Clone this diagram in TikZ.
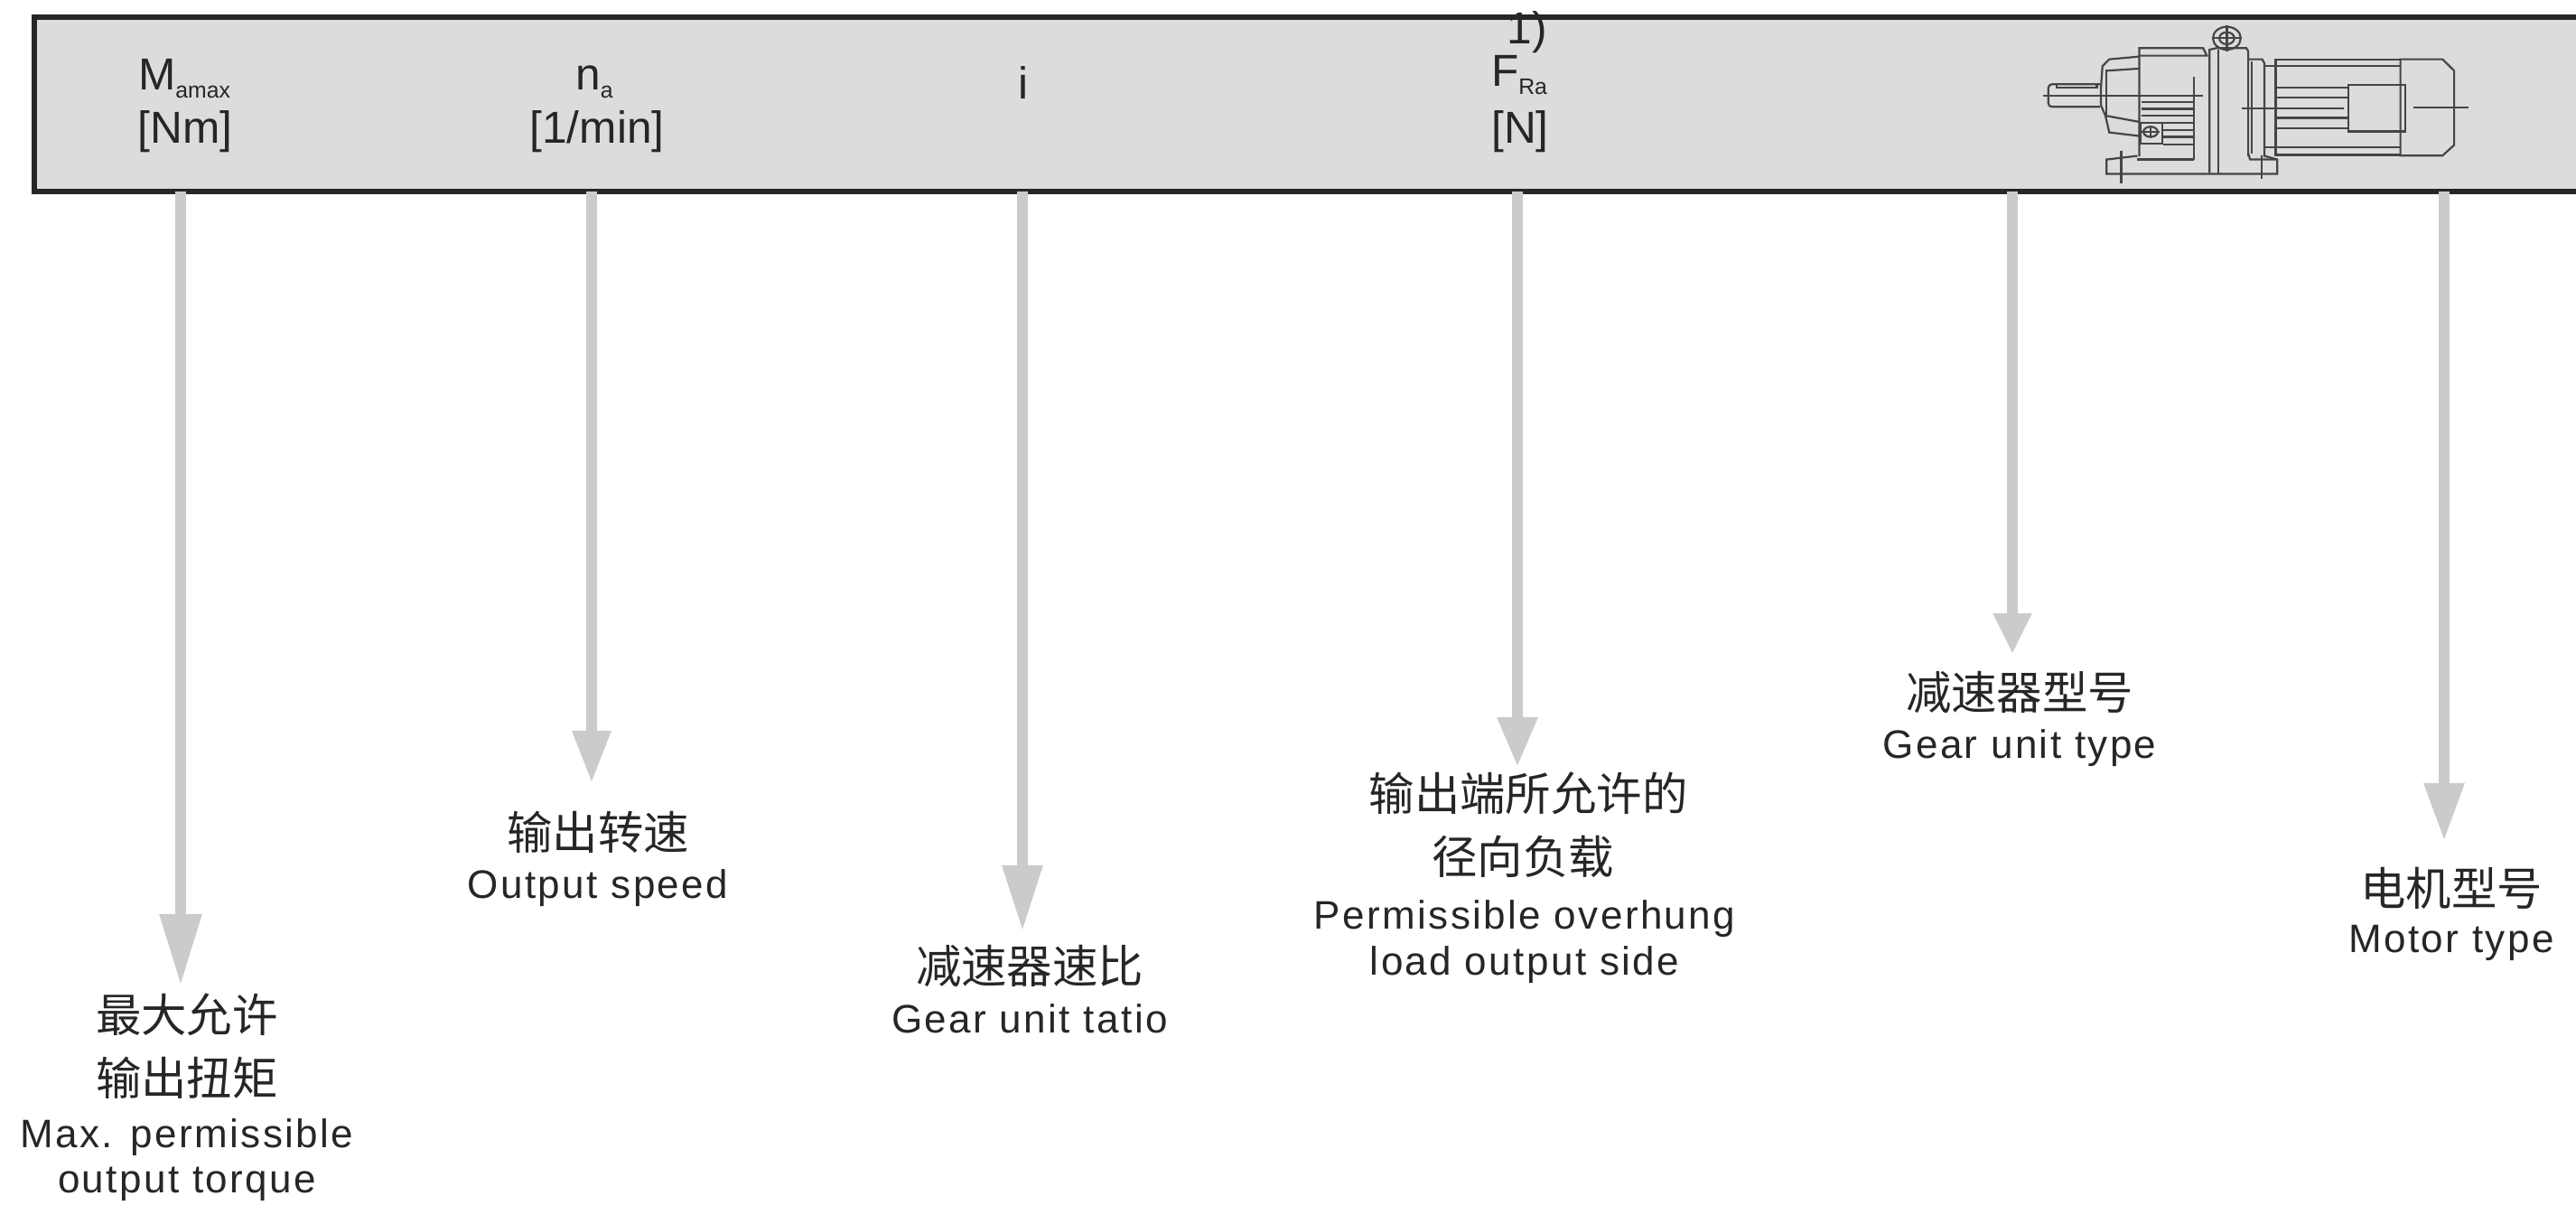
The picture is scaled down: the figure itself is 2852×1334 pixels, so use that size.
\documentclass[tikz,border=0pt]{standalone}
\usepackage{fontspec}
\setmainfont{Liberation Sans}
\newfontfamily\entxt[LetterSpace=5.5]{Liberation Sans}
\newfontfamily\cjk{Noto Sans CJK SC}
\usetikzlibrary{arrows.meta}
\definecolor{bandgray}{HTML}{DCDCDC}
\definecolor{pfeilgray}{HTML}{CBCBCB}
\definecolor{txtgray}{HTML}{262626}
\definecolor{drawgray}{HTML}{454545}
\newcommand{\subtxt}[1]{\raisebox{-2.25pt}{\fontsize{6.2}{7}\selectfont #1}}
\tikzset{
	headtxt/.style={anchor=base,inner sep=0pt,text=txtgray,font=\fontsize{12.4}{14}\selectfont},
	cntxt/.style={anchor=base,inner sep=0pt,text=txtgray,font=\cjk\fontsize{12.6}{14}\selectfont},
	lattxt/.style={anchor=base,inner sep=0pt,text=txtgray,font=\entxt\fontsize{11}{13}\selectfont},
	motorline/.style={draw=drawgray,line width=.55pt},
}
\begin{document}
\begin{tikzpicture}[x=.25pt,y=-.25pt]
\useasboundingbox (0,0) rectangle (2852,1334);
%band
\fill[bandgray] (38,19) rectangle (2852,212);
\draw[black!85,line width=1.5pt] (2852,19) -- (38,19) -- (38,212) -- (2852,212);
%head labels
\node[headtxt] (mamax) at (204,100) {M\subtxt{amax}};
\node[headtxt] (mamax unit) at (205,159) {[Nm]};
\node[headtxt] (na) at (658,100) {n\subtxt{a}};
\node[headtxt] (na unit) at (661,159) {[1/min]};
\node[headtxt] (ratio) at (1133,110) {i};
\node[headtxt] (note) at (1691,49) {1)};
\node[headtxt] (fra) at (1682,96) {F\subtxt{Ra}};
\node[headtxt] (fra unit) at (1683,159) {[N]};
%arrows
\foreach \name/\x/\tipy/\len/\wid in {
	mamax/200/1091/19.75pt/11pt,
	na/655/867/14.5pt/10pt,
	ratio/1132/1031/18.25pt/10.5pt,
	fra/1680/849/13.75pt/10.5pt,
	unit/2228/724/11.25pt/10pt,
	motor/2706/931/16pt/10.5pt
}{
	\coordinate (\name top) at (\x,212);
	\coordinate (\name tip) at (\x,\tipy);
	\draw[pfeilgray,line width=3pt,-{Triangle[length=\len,width=\wid]}] (\name top) -- (\name tip);
}
%texts under the arrows
\node[cntxt] (torque cn a) at (207,1143) {最大允许};
\node[cntxt] (torque cn b) at (207,1213) {输出扭矩};
\node[lattxt] (torque en a) at (207,1271) {Max. permissible};
\node[lattxt] (torque en b) at (207,1321) {output torque};
\node[cntxt] (speed cn) at (662,941) {输出转速};
\node[lattxt] (speed en) at (662,995) {Output speed};
\node[cntxt] (ratio cn) at (1140,1089) {减速器速比};
\node[lattxt] (ratio en) at (1140,1144) {Gear unit tatio};
\node[cntxt] (load cn a) at (1692,898) {输出端所允许的};
\node[cntxt] (load cn b) at (1686,968) {径向负载};
\node[lattxt] (load en a) at (1688,1029) {Permissible overhung};
\node[lattxt] (load en b) at (1688,1080) {load output side};
\node[cntxt] (unit cn) at (2236,786) {减速器型号};
\node[lattxt] (unit en) at (2236,840) {Gear unit type};
\node[cntxt] (motor cn) at (2714,1003) {电机型号};
\node[lattxt] (motor en) at (2714,1055) {Motor type};
%gear motor
\begin{scope}[shift={(2200,0)},x=.104pt,y=-.0833pt,motorline]
%shaft
\draw[rounded corners=1pt] (300,280) -- (163,280) -- (163,355) -- (300,355);
\draw (185,280) -- (185,290) -- (292,290) -- (292,280);
\draw (150,318) -- (575,318);
\draw (550,255) -- (550,530);
%cover
\draw (405,188) -- (325,197) -- (307,220) -- (303,290) -- (303,350) -- (315,385) -- (325,440) -- (405,452);
\draw (318,235) -- (405,228);
\draw (318,385) -- (405,405);
\draw (318,230) -- (318,390);
%housing
\draw (405,520) -- (405,160) -- (575,160) -- (585,185) -- (405,185);
\draw (400,530) -- (550,530);
\foreach \y in {338,362,385,408}
\draw (410,\y) -- (548,\y);
\foreach \y in {432,455,480}
\draw (468,\y) -- (548,\y);
\draw (408,408) rectangle (467,478);
\draw (435,438) circle[x radius=19,y radius=17];
\draw (435,418) -- (435,460) (412,438) -- (458,438);
%foot
\draw (400,518) -- (318,530) -- (318,578) -- (772,578) -- (772,530) -- (735,517);
\draw (695,510) -- (700,530) -- (772,530);
\draw (357,500) -- (357,608);
\draw (730,515) -- (730,595);
%pillar
\draw (592,575) -- (592,165) -- (610,160) -- (690,160) -- (695,170) -- (695,520);
\draw (615,165) -- (615,575);
%eye
\draw (638,127) circle[x radius=37,y radius=38];
\draw (638,127) circle[x radius=20,y radius=20];
\draw (638,85) -- (638,172) (600,127) -- (678,127);
%flange
\draw (695,197) -- (732,197) -- (738,210) -- (738,520);
\draw (705,205) -- (705,510);
%motor
\draw (1100,197) -- (768,197) -- (768,515) -- (1100,515);
\draw (738,220) -- (1100,220);
\draw (738,490) -- (1100,490);
\draw (1100,197) -- (1212,197) -- (1243,235) -- (1243,482) -- (1212,517) -- (1100,517) -- cycle;
\draw (962,282) rectangle (1112,437);
\foreach \y in {290,325,392,427}
\draw (768,\y) -- (962,\y);
\draw (677,360) -- (950,360);
\draw (1135,358) -- (1280,358);
\end{scope}
\end{tikzpicture}
\end{document}
